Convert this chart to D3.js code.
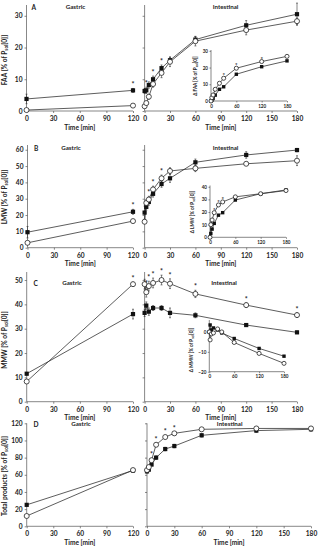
<!DOCTYPE html>
<html><head><meta charset="utf-8">
<script src="https://cdn.jsdelivr.net/npm/d3@7"></script>
<style>
body{margin:0;background:#fff}
svg text{font-family:Lato,'Open Sans',sans-serif;font-weight:700;fill:#222}
.axis path,.axis line{stroke:#555;stroke-width:.7}
</style></head><body>
<svg id="chart" width="320" height="550"></svg>
<script>
// time points
const gastricTime = [0, 120];
const intestTime = [0, 2, 5, 10, 20, 30, 60, 120, 180];
const gastricTicks = [0, 30, 60, 90, 120];
const intestTicks = [0, 30, 60, 90, 120, 150, 180];
const insetTicks = [0, 60, 120, 180];

// A - FAA
const faaGasFilled = [3.8, 6.5], faaGasFilledErr = [1.5, 0.6];
const faaGasOpen = [0.3, 1.7], faaGasOpenErr = [0.2, 0.3];
const faaIntFilled = [6.3, 6.5, 8.2, 10, 13.5, 16, 22.5, 27, 30.5];
const faaIntFilledErr = [0.8, 1, 1, 1, 1, 1, 1, 1.5, 3.5];
const faaIntOpen = [1.5, 2.5, 4.5, 8.5, 12, 15.5, 22, 25.5, 28.3];
const faaIntOpenErr = [0.5, 0.5, 0.8, 1, 1.5, 1.5, 1.5, 1.5, 1];
const faaDeltaFilled = [0, 0.5, 1.5, 3.5, 7, 8.5, 16, 20.5, 24];
const faaDeltaOpen = [0, 2, 3.6, 7, 10.6, 13.6, 19.6, 23.6, 26.7];
const faaGasStars = [120], faaIntStars = [2, 10, 20], faaDeltaStars = [30, 60, 120];

// B - LMW
const lmwGasFilled = [9.5, 22], lmwGasFilledErr = [3.5, 1.5];
const lmwGasOpen = [3, 16.3], lmwGasOpenErr = [0.5, 0.8];
const lmwIntFilled = [21.5, 25, 28, 33, 39, 42.5, 52.3, 56.8, 59.8];
const lmwIntFilledErr = [4, 2, 2, 2, 2, 2.5, 2, 2, 1];
const lmwIntOpen = [15.9, 27.4, 29.5, 35.7, 42.5, 47, 48.6, 51.4, 53.3];
const lmwIntOpenErr = [0.5, 2, 2, 2, 2, 2, 2, 1, 3];
const lmwDeltaFilled = [0, 3, 6.5, 11, 17.5, 19.5, 29.5, 34.5, 37.5];
const lmwDeltaOpen = [0, 10, 13.7, 19.5, 25.6, 28, 32, 34.5, 37];
const lmwGasStars = [120], lmwIntStars = [5, 10, 20], lmwDeltaStars = [10, 20, 30];

// C - MMW
const mmwGasFilled = [11.5, 36], mmwGasFilledErr = [0.5, 2];
const mmwGasOpen = [8.3, 48.3], mmwGasOpenErr = [0.5, 0.8];
const mmwIntFilled = [36.5, 39.5, 37, 38.5, 38.5, 36.5, 35.5, 31.5, 28.5];
const mmwIntFilledErr = [1.5, 1.5, 1.5, 1, 1, 2, 1, 0.5, 0.5];
const mmwIntOpen = [48.3, 45, 47.5, 48.8, 50, 48.5, 44.3, 39.7, 35.6];
const mmwIntOpenErr = [2, 2, 2, 2, 2, 2, 1.5, 1, 1];
const mmwDeltaFilled = [0, 3.5, 1, 2, 1, -0.5, -3.3, -8.3, -12.2];
const mmwDeltaOpen = [0, -4, -1, -0.5, 1.5, 0, -5.3, -10.8, -15.8];
const mmwGasStars = [120], mmwIntStars = [2, 5, 10, 20, 30, 60, 120, 180], mmwDeltaStars = [];

// D - total products
const totGasFilled = [25, 65], totGasFilledErr = [1, 1];
const totGasOpen = [12, 65.5], totGasOpenErr = [1, 1];
const totIntFilled = [64, 66, 72, 80, 90, 93.5, 106, 111.5, 113];
const totIntFilledErr = [2, 2, 2, 2, 2, 2, 2, 2, 2];
const totIntOpen = [65.5, 69, 77, 95, 104, 108.3, 113, 114, 114];
const totIntOpenErr = [2, 2, 2, 2, 2, 2, 2, 2, 2];
const totGasStars = [], totIntStars = [5, 10, 20, 30];

const panels = [
  {letter: 'A', name: 'FAA', yDomain: [0, 33.4], yRange: [111, 5], yTicks: [0, 10, 20, 30],
   gx: [26.5, 133], ix: [144.6, 297], titleY: 60, labelX: 31.5, head: [7, 75.5, 225.5],
   gas: [faaGasFilled, faaGasFilledErr, faaGasOpen, faaGasOpenErr, faaGasStars],
   int: [faaIntFilled, faaIntFilledErr, faaIntOpen, faaIntOpenErr, faaIntStars],
   inset: {x: [211, 287], yDomain: [0, 30.5], yRange: [101, 50], yTicks: [0, 10, 20, 30],
           filled: faaDeltaFilled, open: faaDeltaOpen, stars: faaDeltaStars, tx: 197, ty: 76, name: 'Δ FAA'}},
  {letter: 'B', name: 'LMW', yDomain: [0, 62.9], yRange: [247.7, 145], yTicks: [0, 10, 20, 30, 40, 50, 60],
   gx: [27.5, 133], ix: [144.6, 297], titleY: 197, labelX: 34, head: [148, 71, 225.5],
   gas: [lmwGasFilled, lmwGasFilledErr, lmwGasOpen, lmwGasOpenErr, lmwGasStars],
   int: [lmwIntFilled, lmwIntFilledErr, lmwIntOpen, lmwIntOpenErr, lmwIntStars],
   inset: {x: [210, 286], yDomain: [0, 41], yRange: [237.3, 185.5], yTicks: [0, 10, 20, 30, 40],
           filled: lmwDeltaFilled, open: lmwDeltaOpen, stars: lmwDeltaStars, tx: 194, ty: 212, name: 'Δ LMW'}},
  {letter: 'C', name: 'MMW', yDomain: [0, 53.3], yRange: [401.7, 272], yTicks: [0, 10, 20, 30, 40, 50],
   gx: [26.7, 133], ix: [144.6, 297], titleY: 340, labelX: 33.5, head: [283, 72, 224],
   gas: [mmwGasFilled, mmwGasFilledErr, mmwGasOpen, mmwGasOpenErr, mmwGasStars],
   int: [mmwIntFilled, mmwIntFilledErr, mmwIntOpen, mmwIntOpenErr, mmwIntStars],
   inset: {x: [209.3, 284], yDomain: [-20, 6], yRange: [371.7, 320], yTicks: [-20, -10, 0],
           filled: mmwDeltaFilled, open: mmwDeltaOpen, stars: mmwDeltaStars, tx: 193, ty: 350, name: 'Δ MMW'}},
  {letter: 'D', name: 'Total products', yDomain: [0, 120], yRange: [526.3, 423.3], yTicks: [0, 20, 40, 60, 80, 100, 120],
   gx: [26.7, 133], ix: [147, 311], titleY: 476, labelX: 33.5, head: [424, 81, 229.7],
   gas: [totGasFilled, totGasFilledErr, totGasOpen, totGasOpenErr, totGasStars],
   int: [totIntFilled, totIntFilledErr, totIntOpen, totIntOpenErr, totIntStars],
   inset: null}
];

const svg = d3.select('#chart');
const fs = 6.6;

function sol(t, size, base) {
  t.append('tspan').text(base + ' [% of P');
  t.append('tspan').text('sol').style('font-size', (size * 0.7) + 'px').attr('dy', size * 0.25);
  t.append('tspan').text('[0]]').attr('dy', -size * 0.25);
}

function yTitle(x, yc, base, size) {
  const t = svg.append('text')
    .attr('transform', `translate(${x},${yc}) rotate(-90)`)
    .attr('text-anchor', 'middle')
    .style('font-size', size + 'px');
  sol(t, size, base);
}

function drawSeries(g, x, y, times, sets, ms) {
  const line = d3.line().x(d => x(d.t)).y(d => y(d.v));
  const pts = sets.map(s => times.map((t, i) => ({t, v: s.vals[i], e: s.errs ? s.errs[i] : 0})));
  pts.forEach(p => g.append('path').datum(p).attr('d', line)
    .attr('fill', 'none').attr('stroke', '#333').attr('stroke-width', 0.8));
  pts.forEach(p => g.selectAll(null).data(p.filter(d => d.e > 0)).join('path')
    .attr('d', d => `M${x(d.t)},${y(d.v - d.e)}V${y(d.v + d.e)}M${x(d.t) - 1},${y(d.v + d.e)}h2M${x(d.t) - 1},${y(d.v - d.e)}h2`)
    .attr('stroke', '#333').attr('stroke-width', 0.6));
  pts.forEach((p, k) => {
    if (sets[k].open) {
      g.selectAll(null).data(p).join('circle')
        .attr('cx', d => x(d.t)).attr('cy', d => y(d.v)).attr('r', ms * 0.6)
        .attr('fill', '#fff').attr('stroke', '#222').attr('stroke-width', 0.8);
    } else {
      g.selectAll(null).data(p).join('rect')
        .attr('x', d => x(d.t) - ms / 2).attr('y', d => y(d.v) - ms / 2)
        .attr('width', ms).attr('height', ms).attr('fill', '#111');
    }
  });
}

function drawStars(g, x, y, times, stars, sets, size) {
  stars.forEach(t => {
    const i = times.indexOf(t);
    const top = d3.max(sets, s => s.vals[i] + (s.errs ? s.errs[i] : 0));
    g.append('text').attr('x', x(t)).attr('y', y(top) - 1)
      .attr('text-anchor', 'middle').style('font-size', size + 'px').text('*');
  });
}

function drawAxes(yScale, x, ticks, yTicks, showY, xBase) {
  svg.append('g').attr('class', 'axis').attr('transform', `translate(${x.range()[0]},0)`)
    .call(d3.axisLeft(yScale).tickValues(yTicks).tickSize(2).tickPadding(2)
      .tickFormat(showY ? d3.format('d') : ''))
    .call(a => a.selectAll('text').style('font-size', fs + 'px'))
    .call(a => a.select('.domain').attr('d', `M0,${yScale.range()[0]}V${yScale.range()[1]}`));
  svg.append('g').attr('class', 'axis').attr('transform', `translate(0,${xBase})`)
    .call(d3.axisBottom(x).tickValues(ticks).tickSize(2).tickPadding(3.5))
    .call(a => a.selectAll('text').style('font-size', fs + 'px'))
    .call(a => a.select('.domain').attr('d', `M${x.range()[0]},0H${x.range()[1]}`));
}

panels.forEach(p => {
  const y = d3.scaleLinear().domain(p.yDomain).range(p.yRange);
  const xg = d3.scaleLinear().domain([0, 120]).range(p.gx);
  const xi = d3.scaleLinear().domain([0, 180]).range(p.ix);
  const base = y(0);

  drawAxes(y, xg, gastricTicks, p.yTicks, true, base);
  drawAxes(y, xi, intestTicks, p.yTicks, false, base);

  yTitle(6.5, p.titleY, p.name, fs);

  svg.append('text').attr('x', p.labelX).attr('y', p.head[0] + 2.5).style('font-size', fs + 'px').text(p.letter);
  svg.append('text').attr('x', p.head[1]).attr('y', p.head[0] + 2.2).attr('text-anchor', 'middle')
    .style('font-size', '6.2px').text('Gastric');
  svg.append('text').attr('x', p.head[2]).attr('y', p.head[0] + 2.2).attr('text-anchor', 'middle')
    .style('font-size', '6.2px').text('Intestinal');

  [[xg, 0], [xi, 0]].forEach(([x]) => {
    svg.append('text').attr('x', (x.range()[0] + x.range()[1]) / 2).attr('y', base + 18.5)
      .attr('text-anchor', 'middle').style('font-size', fs + 'px').text('Time [min]');
  });

  const gs = [{vals: p.gas[0], errs: p.gas[1], open: false}, {vals: p.gas[2], errs: p.gas[3], open: true}];
  const is = [{vals: p.int[0], errs: p.int[1], open: false}, {vals: p.int[2], errs: p.int[3], open: true}];
  const gG = svg.append('g');
  drawSeries(gG, xg, y, gastricTime, gs, 4.2);
  drawStars(gG, xg, y, gastricTime, p.gas[4], gs, 7);
  const gI = svg.append('g');
  drawSeries(gI, xi, y, intestTime, is, 4.2);
  drawStars(gI, xi, y, intestTime, p.int[4], is, 7);

  if (p.inset) {
    const q = p.inset;
    const iy = d3.scaleLinear().domain(q.yDomain).range(q.yRange);
    const ix = d3.scaleLinear().domain([0, 180]).range(q.x);
    const ib = q.yRange[0];
    const ga = svg.append('g');
    ga.append('g').attr('class', 'axis').attr('transform', `translate(${q.x[0]},0)`)
      .call(d3.axisLeft(iy).tickValues(q.yTicks).tickSize(1.5).tickPadding(1.5))
      .call(a => a.selectAll('text').style('font-size', '4.6px'))
      .call(a => a.select('.domain').attr('d', `M0,${q.yRange[0]}V${q.yRange[1]}`));
    ga.append('g').attr('class', 'axis').attr('transform', `translate(0,${ib})`)
      .call(d3.axisBottom(ix).tickValues(insetTicks).tickSize(1.5).tickPadding(2))
      .call(a => a.selectAll('text').style('font-size', '4.6px'))
      .call(a => a.select('.domain').attr('d', `M${q.x[0]},0H${q.x[1]}`));
    yTitle(q.tx, q.ty, q.name, 4.6);
    const ss = [{vals: q.filled, open: false}, {vals: q.open, open: true}];
    drawSeries(ga, ix, iy, intestTime, ss, 3.4);
    drawStars(ga, ix, iy, intestTime, q.stars, ss, 6);
  }
});
</script></body></html>
